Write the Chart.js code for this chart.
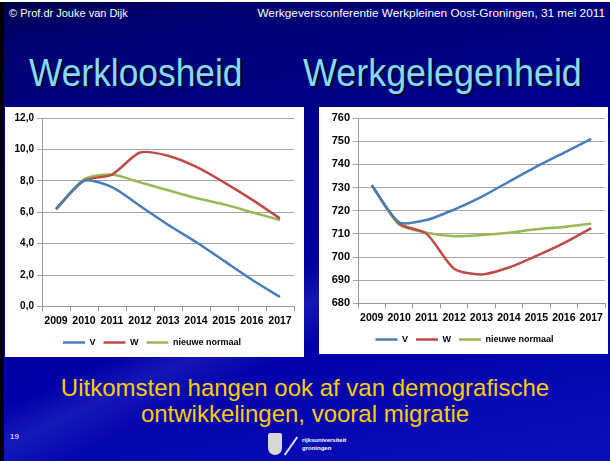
<!DOCTYPE html>
<html>
<head>
<meta charset="utf-8">
<script src="https://cdn.jsdelivr.net/npm/chart.js@4.4.1/dist/chart.umd.min.js"></script>
<style>
  body {
    margin: 0;
    width: 610px;
    height: 461px;
    overflow: hidden;
    position: relative;
    font-family: "Liberation Sans", Arial, sans-serif;
    background:
      linear-gradient(155deg, rgba(255,255,255,0) 55%, rgba(120,140,255,0.16) 60%, rgba(255,255,255,0) 66%),
      linear-gradient(170deg, #00004a 0%, #000070 8%, #00008e 35%, #0000a8 70%, #0a10b8 100%);
  }
  .topline { position: absolute; left: 0; top: 0; width: 610px; height: 2px; background: #fff; }
  .leftbar { position: absolute; left: 0; top: 2px; width: 4px; height: 459px; background: #000; }
  .hdr { position: absolute; top: 7px; color: #fff; font-size: 11px; white-space: nowrap; }
  .title {
    position: absolute; top: 52px; color: #86d9f2; font-size: 38px;
    text-shadow: 2px 2px 1px #000030; transform-origin: left top; white-space: nowrap;
  }
  .box { position: absolute; background: #fff; }
  .foot {
    position: absolute; left: 0; width: 610px; top: 375px; text-align: center;
    color: #ffcc00; font-size: 24px; line-height: 26px;
  }
  .pg { position: absolute; left: 10px; top: 432px; color: #fff; font-size: 8px; }
  .logo { position: absolute; left: 268px; top: 433px; }
  .shield { position: absolute; left: 0; top: 0; width: 14px; height: 22px; background: #d8d8d8; border-radius: 2px 2px 7px 7px; }
  .slash { position: absolute; left: 22px; top: 2px; width: 2px; height: 22px; background: #e0e0e0; transform: rotate(35deg); }
  .lt { position: absolute; left: 34px; top: 3px; color: #fff; font-size: 6px; font-weight: bold; line-height: 8px; white-space: nowrap; }
</style>
</head>
<body>
<div class="topline"></div>
<div class="leftbar"></div>
<div class="hdr" style="left:9px">© Prof.dr Jouke van Dijk</div>
<div class="hdr" style="right:5px;font-size:11.8px;top:6px">Werkgeversconferentie Werkpleinen Oost-Groningen, 31 mei 2011</div>
<div class="title" style="left:29px;transform:scaleX(0.93)">Werkloosheid</div>
<div class="title" style="left:303px;transform:scaleX(0.945)">Werkgelegenheid</div>

<div class="box" style="left:5px;top:107px;width:299px;height:250px"><canvas id="werkloos"></canvas></div>
<div class="box" style="left:319px;top:107px;width:289px;height:247px"><canvas id="werkgelegen"></canvas></div>

<div class="foot">Uitkomsten hangen ook af van demografische<br>ontwikkelingen, vooral migratie</div>
<div class="pg">19</div>
<div class="logo">
  <div class="shield"></div>
  <div class="slash"></div>
  <div class="lt">rijksuniversiteit<br>groningen</div>
</div>

<script>
const years = ['2009', '2010', '2011', '2012', '2013', '2014', '2015', '2016', '2017'];

// werkloosheid (%)
const werkloosV = [6.2, 8.0, 7.6, 6.4, 5.2, 4.1, 2.9, 1.7, 0.6];
const werkloosW = [6.2, 8.0, 8.4, 9.8, 9.6, 8.9, 7.9, 6.8, 5.6];
const werkloosNieuw = [6.2, 8.1, 8.4, 7.9, 7.4, 6.9, 6.5, 6.0, 5.5];

// werkgelegenheid (x 1000)
const werkgelegV = [731, 715, 716, 720.5, 726, 732.5, 739, 745, 751];
const werkgelegW = [731, 714.5, 710, 695, 692.5, 695.5, 700.5, 706, 712.5];
const werkgelegNieuw = [731, 714, 710.5, 709, 709.5, 710.5, 712, 713, 714.5];

const seriesNames = ['V', 'W', 'nieuwe normaal'];
const seriesColors = ['#4a7ebb', '#be4b48', '#98b954'];

Chart.defaults.font.family = '"Liberation Sans", Arial, sans-serif';
Chart.defaults.color = '#000';
Chart.defaults.animation = false;

function makeDatasets(values) {
    return values.map((data, i) => ({
        label: seriesNames[i],
        data: data,
        borderColor: seriesColors[i],
        backgroundColor: seriesColors[i],
        borderWidth: 2.5,
        pointRadius: 0,
        tension: 0.25,
        fill: false
    }));
}

function makeOptions(yMin, yMax, yStep, fmt, yWidth, yFont, padding) {
    return {
        responsive: true,
        maintainAspectRatio: false,
        layout: { padding: padding },
        plugins: {
            tooltip: { enabled: false },
            legend: {
                position: 'bottom',
                labels: {
                    usePointStyle: true,
                    pointStyle: 'line',
                    pointStyleWidth: 22,
                    boxHeight: 9,
                    padding: 8,
                    font: { size: 9, weight: 'bold' }
                }
            }
        },
        scales: {
            x: {
                offset: true,
                grid: { offset: true, drawOnChartArea: false, tickLength: 5, color: '#999' },
                border: { color: '#999' },
                ticks: { maxRotation: 0, autoSkip: false, padding: 3, font: { size: 10.5, weight: 'bold' } }
            },
            y: {
                min: yMin,
                max: yMax,
                afterFit: (scale) => { scale.width = yWidth; },
                grid: { color: '#a6a6a6', tickLength: 5 },
                border: { color: '#999' },
                ticks: { stepSize: yStep, padding: 3, callback: fmt, font: { size: yFont, weight: 'bold' } }
            }
        }
    };
}

new Chart(document.getElementById('werkloos'), {
    type: 'line',
    data: { labels: years, datasets: makeDatasets([werkloosV, werkloosW, werkloosNieuw]) },
    options: makeOptions(0, 12, 2, (v) => v.toFixed(1).replace('.', ','), 32, 10,
        { left: 5, right: 10, top: 11, bottom: 0 })
});

new Chart(document.getElementById('werkgelegen'), {
    type: 'line',
    data: { labels: years, datasets: makeDatasets([werkgelegV, werkgelegW, werkgelegNieuw]) },
    options: makeOptions(680, 760, 10, (v) => v, 34, 11,
        { left: 5, right: 3, top: 11, bottom: 0 })
});
</script>
</body>
</html>
